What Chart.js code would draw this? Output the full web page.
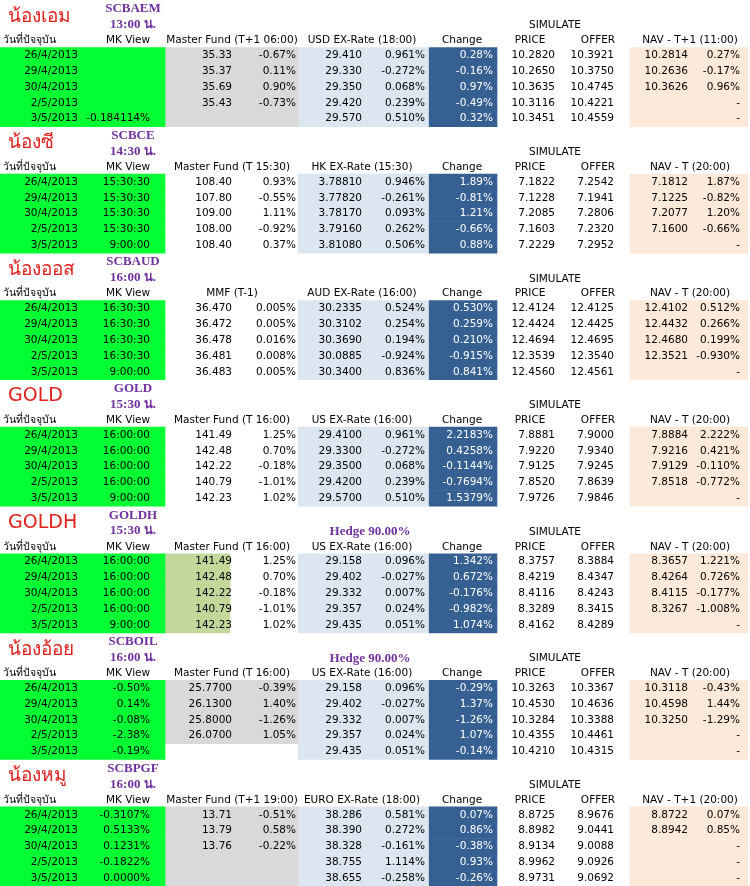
<!DOCTYPE html>
<html><head><meta charset="utf-8">
<script src="https://cdn.jsdelivr.net/npm/chart.js@4"></script>
<style>html,body{margin:0;padding:0;background:#fff}#w{width:750px;height:886px}</style>
</head><body><div id="w"><canvas id="c"></canvas></div>
<script>
const dates = ["26/4/2013","29/4/2013","30/4/2013","2/5/2013","3/5/2013"];
const blockNames = ["น้องเอม","น้องซี","น้องออส","GOLD","GOLDH","น้องอ้อย","น้องหมู"];
const blockCodes = ["SCBAEM","SCBCE","SCBAUD","GOLD","GOLDH","SCBOIL","SCBPGF"];
const blockTimes = ["13:00 น.","14:30 น.","16:00 น.","15:30 น.","15:30 น.","16:00 น.","16:00 น."];
const hedgeLabels = ["","","","","Hedge 90.00%","Hedge 90.00%",""];
const masterHeaders = ["Master Fund (T+1 06:00)","Master Fund (T 15:30)","MMF (T-1)","Master Fund (T 16:00)","Master Fund (T 16:00)","Master Fund (T 16:00)","Master Fund (T+1 19:00)"];
const fxHeaders = ["USD EX-Rate (18:00)","HK EX-Rate (15:30)","AUD EX-Rate (16:00)","US EX-Rate (16:00)","US EX-Rate (16:00)","US EX-Rate (16:00)","EURO EX-Rate (18:00)"];
const navHeaders = ["NAV - T+1 (11:00)","NAV - T (20:00)","NAV - T (20:00)","NAV - T (20:00)","NAV - T (20:00)","NAV - T (20:00)","NAV - T+1 (20:00)"];
// columns: MK View, Master, Master %, FX, FX %, Change, PRICE, OFFER, NAV, NAV %
const rowsSCBAEM = [
 ["","35.33","-0.67%","29.410","0.961%","0.28%","10.2820","10.3921","10.2814","0.27%"],
 ["","35.37","0.11%","29.330","-0.272%","-0.16%","10.2650","10.3750","10.2636","-0.17%"],
 ["","35.69","0.90%","29.350","0.068%","0.97%","10.3635","10.4745","10.3626","0.96%"],
 ["","35.43","-0.73%","29.420","0.239%","-0.49%","10.3116","10.4221","","-"],
 ["-0.184114%","","","29.570","0.510%","0.32%","10.3451","10.4559","","-"]];
const rowsSCBCE = [
 ["15:30:30","108.40","0.93%","3.78810","0.946%","1.89%","7.1822","7.2542","7.1812","1.87%"],
 ["15:30:30","107.80","-0.55%","3.77820","-0.261%","-0.81%","7.1228","7.1941","7.1225","-0.82%"],
 ["15:30:30","109.00","1.11%","3.78170","0.093%","1.21%","7.2085","7.2806","7.2077","1.20%"],
 ["15:30:30","108.00","-0.92%","3.79160","0.262%","-0.66%","7.1603","7.2320","7.1600","-0.66%"],
 ["9:00:00","108.40","0.37%","3.81080","0.506%","0.88%","7.2229","7.2952","","-"]];
const rowsSCBAUD = [
 ["16:30:30","36.470","0.005%","30.2335","0.524%","0.530%","12.4124","12.4125","12.4102","0.512%"],
 ["16:30:30","36.472","0.005%","30.3102","0.254%","0.259%","12.4424","12.4425","12.4432","0.266%"],
 ["16:30:30","36.478","0.016%","30.3690","0.194%","0.210%","12.4694","12.4695","12.4680","0.199%"],
 ["16:30:30","36.481","0.008%","30.0885","-0.924%","-0.915%","12.3539","12.3540","12.3521","-0.930%"],
 ["9:00:00","36.483","0.005%","30.3400","0.836%","0.841%","12.4560","12.4561","","-"]];
const rowsGOLD = [
 ["16:00:00","141.49","1.25%","29.4100","0.961%","2.2183%","7.8881","7.9000","7.8884","2.222%"],
 ["16:00:00","142.48","0.70%","29.3300","-0.272%","0.4258%","7.9220","7.9340","7.9216","0.421%"],
 ["16:00:00","142.22","-0.18%","29.3500","0.068%","-0.1144%","7.9125","7.9245","7.9129","-0.110%"],
 ["16:00:00","140.79","-1.01%","29.4200","0.239%","-0.7694%","7.8520","7.8639","7.8518","-0.772%"],
 ["9:00:00","142.23","1.02%","29.5700","0.510%","1.5379%","7.9726","7.9846","","-"]];
const rowsGOLDH = [
 ["16:00:00","141.49","1.25%","29.158","0.096%","1.342%","8.3757","8.3884","8.3657","1.221%"],
 ["16:00:00","142.48","0.70%","29.402","-0.027%","0.672%","8.4219","8.4347","8.4264","0.726%"],
 ["16:00:00","142.22","-0.18%","29.332","0.007%","-0.176%","8.4116","8.4243","8.4115","-0.177%"],
 ["16:00:00","140.79","-1.01%","29.357","0.024%","-0.982%","8.3289","8.3415","8.3267","-1.008%"],
 ["9:00:00","142.23","1.02%","29.435","0.051%","1.074%","8.4162","8.4289","","-"]];
const rowsSCBOIL = [
 ["-0.50%","25.7700","-0.39%","29.158","0.096%","-0.29%","10.3263","10.3367","10.3118","-0.43%"],
 ["0.14%","26.1300","1.40%","29.402","-0.027%","1.37%","10.4530","10.4636","10.4598","1.44%"],
 ["-0.08%","25.8000","-1.26%","29.332","0.007%","-1.26%","10.3284","10.3388","10.3250","-1.29%"],
 ["-2.38%","26.0700","1.05%","29.357","0.024%","1.07%","10.4355","10.4461","","-"],
 ["-0.19%","","","29.435","0.051%","-0.14%","10.4210","10.4315","","-"]];
const rowsSCBPGF = [
 ["-0.3107%","13.71","-0.51%","38.286","0.581%","0.07%","8.8725","8.9676","8.8722","0.07%"],
 ["0.5133%","13.79","0.58%","38.390","0.272%","0.86%","8.8982","9.0441","8.8942","0.85%"],
 ["0.1231%","13.76","-0.22%","38.328","-0.161%","-0.38%","8.9134","9.0088","","-"],
 ["-0.1822%","","","38.755","1.114%","0.93%","8.9962","9.0926","","-"],
 ["0.0000%","","","38.655","-0.258%","-0.26%","8.9731","9.0692","","-"]];
const blocks = [rowsSCBAEM,rowsSCBCE,rowsSCBAUD,rowsGOLD,rowsGOLDH,rowsSCBOIL,rowsSCBPGF];

// layout (styling)
const ROWS_PER_BLOCK = 8, HEAD = 3;
const grayRows = [[0,1,2,3,4],[],[],[],[],[0,1,2,3],[0,1,2,3,4]];
const oliveRows = [[],[],[],[],[0,1,2,3,4],[],[]];
const colRight = [150,232,296,362,425,493,555,614,688,740];
const nRows = blocks.length*ROWS_PER_BLOCK;
const labels = Array.from({length:nRows},(_,i)=>"r"+i);

function band(x0,x1,pred){
  const d = new Array(nRows).fill(null);
  blocks.forEach((b,bi)=>b.forEach((r,ri)=>{ if(pred(bi,ri)) d[bi*ROWS_PER_BLOCK+HEAD+ri]=[x0,x1]; }));
  return d;
}
const ds = (data,color)=>({data,backgroundColor:color,borderWidth:0,barPercentage:1,categoryPercentage:1,grouped:false});
const datasets = [
  ds(band(0,165,()=>true),'#00ff33'),
  ds(band(165,298,(b,r)=>grayRows[b].includes(r)),'#d9d9d9'),
  ds(band(165,230,(b,r)=>oliveRows[b].includes(r)),'#c4d79b'),
  ds(band(298,428,()=>true),'#dce6f1'),
  ds(band(429,497,()=>true),'#366092'),
  ds(band(630,748,()=>true),'#fde9d9')
];

const textPlugin = {id:'txt',afterDatasetsDraw(chart){
  const c=chart.ctx, xs=chart.scales.x, ys=chart.scales.y;
  const X=v=>xs.getPixelForValue(v), Y=i=>ys.getPixelForValue(i);
  const F='"DejaVu Sans","Noto Sans",sans-serif';
  const TF='bold 13px "Liberation Serif",serif';
  c.save(); c.textBaseline='middle';
  function t(s,x,y,al,col,font){c.font=font||('10.5px '+F);c.fillStyle=col||'#000';c.textAlign=al||'right';c.fillText(s,X(x),y);}
  blocks.forEach((b,bi)=>{
    const base=bi*ROWS_PER_BLOCK;
    const y0=Y(base), y1=Y(base+1), y2=Y(base+2);
    t(blockNames[bi],8,(y0+y1)/2+1,'left','#e0201b','19px '+F);
    t(blockCodes[bi],133,y0+1,'center','#7030a0',TF);
    t(blockTimes[bi],133,y1+1,'center','#7030a0',TF);
    if(hedgeLabels[bi]) t(hedgeLabels[bi],370,y1+2,'center','#7030a0',TF);
    t('SIMULATE',555,y1+2,'center');
    t('วันที่ปัจจุบัน',3,y2+1,'left');
    t('MK View',128,y2+1,'center');
    t(masterHeaders[bi],232,y2+1,'center');
    t(fxHeaders[bi],362,y2+1,'center');
    t('Change',462,y2+1,'center');
    t('PRICE',530,y2+1,'center');
    t('OFFER',598,y2+1,'center');
    t(navHeaders[bi],690,y2+1,'center');
    b.forEach((r,ri)=>{
      const y=Y(base+HEAD+ri);
      t(dates[ri],78,y);
      r.forEach((v,ci)=>{ if(v) t(v,colRight[ci],y,'right',ci===5?'#fff':'#000'); });
    });
  });
  c.restore();
}};

new Chart(document.getElementById('c'),{
  type:'bar',
  data:{labels,datasets},
  options:{indexAxis:'y',animation:false,responsive:true,maintainAspectRatio:false,
    layout:{padding:0},
    plugins:{legend:{display:false},tooltip:{enabled:false}},
    scales:{x:{type:'linear',min:0,max:750,display:false},y:{type:'category',display:false,offset:true}}},
  plugins:[textPlugin]
});
</script></body></html>
